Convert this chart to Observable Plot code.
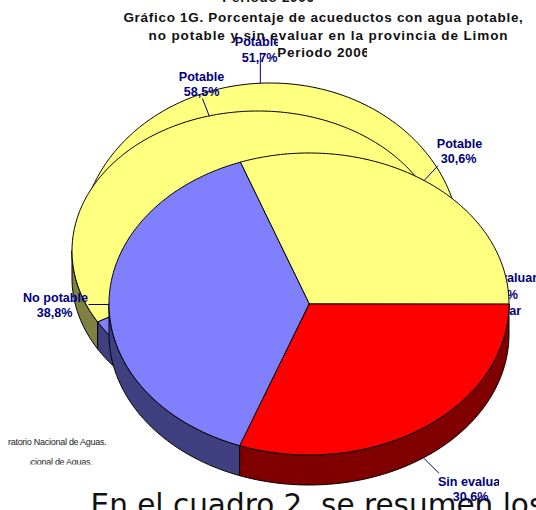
<!DOCTYPE html>
<html><head><meta charset="utf-8">
<style>html,body{margin:0;padding:0;background:#fff;overflow:hidden}svg{display:block}</style>
<script src="https://cdn.jsdelivr.net/npm/d3@7"></script>
<script src="https://cdn.jsdelivr.net/npm/@observablehq/plot@0.6"></script>
</head><body><div id="chart"></div>
<script>
const categories = ["Potable", "No potable", "Sin evaluar"];
const potable = [51.7, 58.5, 30.6];
const noPotable = [38.5, 31.7, 38.8];
const sinEvaluar = [9.8, 9.8, 30.6];
const topColors = ["#FFFF80", "#8080FF", "#FF0000"];
const wallColors = ["#808040", "#404080", "#800000"];
const titleLines = ["Gráfico 1G. Porcentaje de acueductos con agua potable,", "no potable y sin evaluar en la provincia de Limon", "Periodo 2006"];
const sourceText = "Fuente: Laboratorio Nacional de Aguas.";
const bodyText = "En el cuadro 2, se resumen los";
const fmt = v => v.toFixed(1).replace(".", ",") + "%";
const NAVY = "#000080";

// layout of the three stacked pies
const pies = [
  {cx: 270, cy: 245, rx: 190, ry: 162, depth: 27},
  {cx: 258, cy: 251, rx: 186, ry: 140, depth: 27},
  {cx: 309, cy: 304, rx: 200, ry: 151, depth: 30}
];

let clipN = 0;
const clip = (x0, y0, x1, y1, spacing) => (index, scales, values, dim, ctx, next) => {
  const g = next(index, scales, values, dim, ctx);
  if (spacing != null) g.setAttribute("letter-spacing", spacing);
  if (x0 != null) {
    const id = "clip" + (++clipN);
    const ns = "http://www.w3.org/2000/svg";
    const cp = document.createElementNS(ns, "clipPath");
    cp.setAttribute("id", id);
    const r = document.createElementNS(ns, "rect");
    r.setAttribute("x", x0); r.setAttribute("y", y0);
    r.setAttribute("width", x1 - x0); r.setAttribute("height", y1 - y0);
    cp.appendChild(r);
    const wrap = document.createElementNS(ns, "g");
    wrap.setAttribute("clip-path", `url(#${id})`);
    wrap.appendChild(cp);
    wrap.appendChild(g);
    return wrap;
  }
  return g;
};

const pt = (p, a) => [p.cx + p.rx * Math.cos(a * Math.PI / 180), p.cy - p.ry * Math.sin(a * Math.PI / 180)];
const arc = (p, a0, a1) => {
  const n = Math.max(2, Math.ceil(Math.abs(a1 - a0)));
  return d3.range(n + 1).map(i => pt(p, a0 + (a1 - a0) * i / n));
};

function pieMarks(p, shares) {
  const marks = [];
  const stops = [0];
  shares.forEach(s => stops.push(stops[stops.length - 1] + s * 3.6));
  // side walls: only the front half of the rim shows
  shares.forEach((s, i) => {
    const a0 = Math.max(stops[i], 180), a1 = Math.min(stops[i + 1], 360);
    if (a1 > a0) {
      marks.push(Plot.area(arc(p, a0, a1), {
        x1: d => d[0], y1: d => d[1], x2: d => d[0], y2: d => d[1] + p.depth,
        fill: wallColors[i], stroke: "#000", strokeWidth: 1
      }));
    }
  });
  // top faces
  shares.forEach((s, i) => {
    marks.push(Plot.area(arc(p, stops[i], stops[i + 1]), {
      x1: d => d[0], y1: d => d[1], x2: () => p.cx, y2: () => p.cy,
      fill: topColors[i], stroke: "#000", strokeWidth: 1
    }));
  });
  return {marks, stops};
}

const labelStyle = {fill: NAVY, fontFamily: "Liberation Sans", fontWeight: "bold", fontSize: 12.6, textAnchor: "middle", lineAnchor: "middle"};
const label = (txt, x, y, render) => Plot.text([txt], {x: () => x, y: () => y, text: d => d, ...labelStyle, render});
const leader = (p, a, dx, dy, extra = 0) => {
  const [x, y] = pt(p, a);
  return Plot.link([0], {x1: () => x, y1: () => y + extra, x2: () => x + dx, y2: () => y + extra + dy, stroke: NAVY, strokeWidth: 1});
};
const titleStyle = {text: d => d, fill: "#111", fontFamily: "Liberation Sans", fontWeight: "bold", fontSize: 13.5, textAnchor: "middle", lineAnchor: "middle"};
const sourceStyle = {text: d => d, fill: "#222", fontFamily: "Liberation Sans", fontSize: 9, textAnchor: "end", lineAnchor: "middle"};

const back = pieMarks(pies[0], [potable[0], noPotable[0], sinEvaluar[0]]);
const mid = pieMarks(pies[1], [potable[1], noPotable[1], sinEvaluar[1]]);
const front = pieMarks(pies[2], [potable[2], noPotable[2], sinEvaluar[2]]);

const chart = Plot.plot({
  width: 536, height: 510, margin: 0,
  x: {domain: [0, 536], range: [0, 536], axis: null},
  y: {domain: [0, 510], range: [0, 510], axis: null},
  style: {background: "#fff"},
  marks: [
    // older chart's title peeking at the very top
    Plot.text([titleLines[2]], {x: () => 268, y: () => -3, ...titleStyle, render: clip(0, 0, 313, 20, 0.7)}),
    // back pie
    ...back.marks,
    leader(pies[0], back.stops[1] / 2, 0, -31),
    // front title sits under the data labels
    Plot.text([titleLines[0]], {x: () => 323, y: () => 17, ...titleStyle, render: clip(0, 0, 525, 60, 0.7)}),
    Plot.text([titleLines[1]], {x: () => 328, y: () => 35, ...titleStyle, render: clip(0, 0, 525, 60, 0.9)}),
    Plot.text([titleLines[2]], {x: () => 323, y: () => 52, ...titleStyle, render: clip(0, 0, 367, 70, 0.7)}),
    label(categories[0], 257, 41, clip(0, 0, 278, 510)),
    label(fmt(potable[0]), 259, 57),
    label(categories[2], 503, 277),
    label(fmt(sinEvaluar[0]), 503, 294),
    // middle pie
    ...mid.marks,
    leader(pies[1], mid.stops[1] / 2, -7, -18),
    label(categories[0], 201, 76),
    label(fmt(potable[1]), 201, 91),
    label(categories[2], 487, 310),
    // source lines
    Plot.text([sourceText], {x: () => 106, y: () => 442, ...sourceStyle, render: clip(8, 430, 110, 450, -0.27)}),
    Plot.text([sourceText], {x: () => 92, y: () => 462, ...sourceStyle, render: clip(30, 450, 100, 464.5, -0.27)}),
    // front pie
    ...front.marks,
    leader(pies[2], front.stops[1] / 2, 14, -15),
    label(categories[0], 459, 143),
    label(fmt(potable[2]), 458, 158),
    leader(pies[2], (front.stops[1] + front.stops[2]) / 2, -21, 0),
    label(categories[1], 55, 297),
    label(fmt(noPotable[2]), 54, 312),
    leader(pies[2], (front.stops[2] + front.stops[3]) / 2, 15, 15, 30),
    label(categories[2], 471, 481, clip(0, 0, 499, 510)),
    // running text of the page beneath
    Plot.text([bodyText], {x: () => 90, y: () => 505, text: d => d, fill: "#111", fontFamily: "DejaVu Sans", fontSize: 29.5, textAnchor: "start", lineAnchor: "middle"}),
    label(fmt(sinEvaluar[2]), 470, 496)
  ]
});
document.getElementById("chart").appendChild(chart);
</script></body></html>
